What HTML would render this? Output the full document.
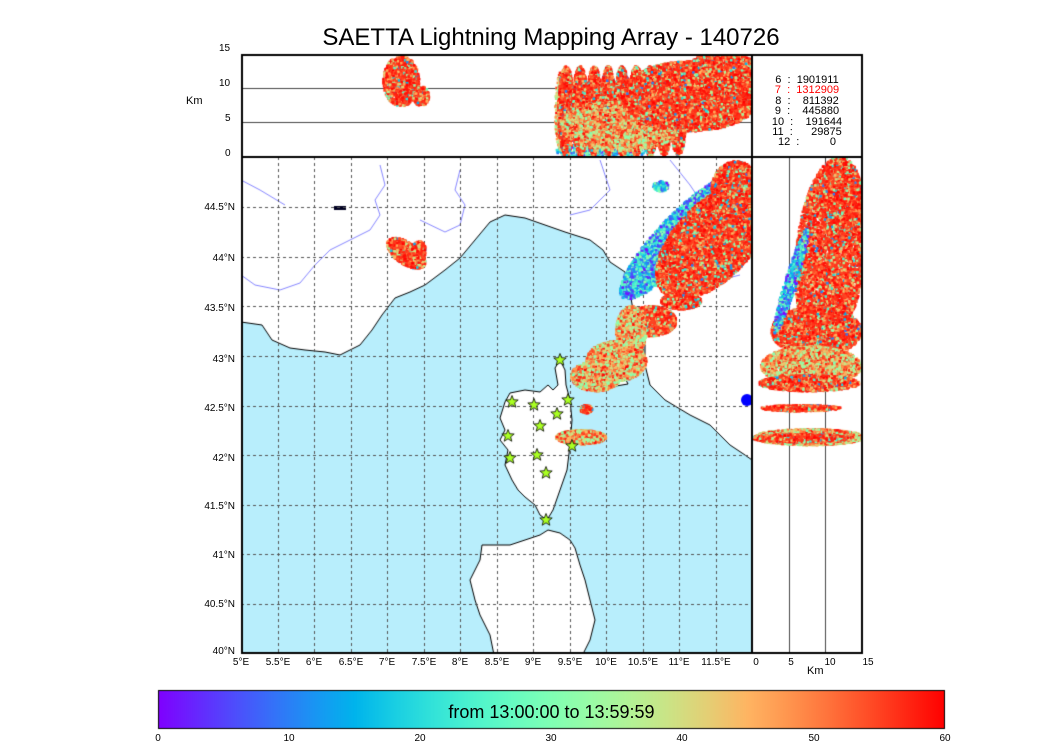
<!DOCTYPE html>
<html><head><meta charset="utf-8"><style>
body{margin:0;background:#fff;width:1050px;height:750px;overflow:hidden;position:relative;font-family:"Liberation Sans",sans-serif}
canvas{position:absolute;left:0;top:0}
.t{position:absolute;font-size:10px;color:#000;white-space:nowrap}
.lat{position:absolute;right:815px;font-size:10px;white-space:nowrap}
.lon{position:absolute;top:657px;font-size:10px;transform:translateX(-50%);white-space:nowrap}
.lg{position:absolute;left:752px;width:110px;text-align:center;font-size:11px;line-height:10.4px;top:75px}
</style></head><body>
<canvas id="c" width="1050" height="750"></canvas>
<div class="t" style="left:0;width:1102px;text-align:center;top:24px;font-size:24px">SAETTA Lightning Mapping Array - 140726</div>
<div class="t" style="left:219px;top:43px">15</div>
<div class="t" style="left:219px;top:78px">10</div>
<div class="t" style="left:225px;top:113px">5</div>
<div class="t" style="left:225px;top:148px">0</div>
<div class="t" style="left:186px;top:95px;font-size:11px">Km</div>
<div class="lg">6&nbsp; : &nbsp;1901911<br><span style="color:#f00">7&nbsp; : &nbsp;1312909</span><br>8&nbsp; : &nbsp;&nbsp;&nbsp;811392<br>9&nbsp; : &nbsp;&nbsp;&nbsp;445880<br>10&nbsp; : &nbsp;&nbsp;&nbsp;191644<br>11&nbsp; : &nbsp;&nbsp;&nbsp;&nbsp;&nbsp;29875<br>12&nbsp; : &nbsp;&nbsp;&nbsp;&nbsp;&nbsp;&nbsp;&nbsp;&nbsp;&nbsp;0</div>
<div class="lat" style="top:202px">44.5°N</div>
<div class="lat" style="top:253px">44°N</div>
<div class="lat" style="top:303px">43.5°N</div>
<div class="lat" style="top:354px">43°N</div>
<div class="lat" style="top:403px">42.5°N</div>
<div class="lat" style="top:453px">42°N</div>
<div class="lat" style="top:501px">41.5°N</div>
<div class="lat" style="top:550px">41°N</div>
<div class="lat" style="top:599px">40.5°N</div>
<div class="lat" style="top:646px">40°N</div>
<div class="lon" style="left:241px">5°E</div><div class="lon" style="left:278px">5.5°E</div>
<div class="lon" style="left:314px">6°E</div><div class="lon" style="left:351px">6.5°E</div>
<div class="lon" style="left:387px">7°E</div><div class="lon" style="left:424px">7.5°E</div>
<div class="lon" style="left:460px">8°E</div><div class="lon" style="left:497px">8.5°E</div>
<div class="lon" style="left:533px">9°E</div><div class="lon" style="left:570px">9.5°E</div>
<div class="lon" style="left:606px">10°E</div><div class="lon" style="left:643px">10.5°E</div>
<div class="lon" style="left:679px">11°E</div><div class="lon" style="left:716px">11.5°E</div>
<div class="lon" style="left:756px">0</div><div class="lon" style="left:791px">5</div>
<div class="lon" style="left:830px">10</div><div class="lon" style="left:868px">15</div>
<div class="t" style="left:807px;top:665px;font-size:11px">Km</div>
<div class="t" style="left:158px;width:787px;text-align:center;top:702px;font-size:18px">from 13:00:00 to 13:59:59</div>
<div class="lon" style="left:158px;top:733px">0</div><div class="lon" style="left:289px;top:733px">10</div>
<div class="lon" style="left:420px;top:733px">20</div><div class="lon" style="left:551px;top:733px">30</div>
<div class="lon" style="left:682px;top:733px">40</div><div class="lon" style="left:814px;top:733px">50</div>
<div class="lon" style="left:945px;top:733px">60</div>
<script>
var c=document.getElementById('c').getContext('2d');
var s=12345;function R(){s=(s*16807)%2147483647;return s/2147483647;}
function col(x){var r=Math.min(1,Math.abs(2*x-0.5)),g=Math.sin(Math.PI*x),b=Math.max(0,Math.cos(Math.PI*x/2));return 'rgb('+Math.round(r*255)+','+Math.round(g*255)+','+Math.round(b*255)+')';}
var gr=c.createLinearGradient(158,0,945,0);for(var i=0;i<=20;i++)gr.addColorStop(i/20,col(i/20));
c.fillStyle=gr;c.fillRect(158,690,787,39);c.strokeStyle='#000';c.lineWidth=1;c.strokeRect(158.5,690.5,786,38);
function poly(p,f,st){c.beginPath();c.moveTo(p[0],p[1]);for(var i=2;i<p.length;i+=2)c.lineTo(p[i],p[i+1]);c.closePath();if(f){c.fillStyle=f;c.fill();}if(st){c.strokeStyle=st;c.lineWidth=1;c.stroke();}}
c.save();c.beginPath();c.rect(241,157,511,496);c.clip();
var co=[262,325,272,340,290,348,305,350,325,352,340,355,350,350,360,345,372,330,382,315,395,298,410,292,425,285,445,270,460,258,475,240,490,222,505,215,525,218,545,225,565,232,590,240,603,250,610,262,625,272,630,292,633,310,640,325,645,345,645,365,650,385,665,400,690,415,710,425,730,445,745,455,752,460];
poly([241,322].concat(co,[752,700,241,700]),'#b8eefc');
c.beginPath();c.moveTo(241,322);for(var i=0;i<co.length;i+=2)c.lineTo(co[i],co[i+1]);c.strokeStyle='#000';c.stroke();
poly([560,360,555,368,558,385,553,390,548,385,540,392,525,390,510,393,505,402,500,418,505,430,500,440,508,450,505,465,512,480,518,490,525,497,535,505,540,515,547,520,553,510,560,490,567,470,570,445,572,420,570,400,566,385,565,370],'#fff','#000');
poly([540,535,548,530,560,533,570,540,575,548,580,565,585,580,590,600,595,620,590,640,580,660,495,660,490,635,480,615,475,600,470,580,480,560,482,545,495,545,510,545,525,540],'#fff','#000');
poly([614,378,624,376,628,384,616,386],'#fff','#000');
c.strokeStyle='#33f';c.lineWidth=0.6;
[[241,275,255,285,280,290,300,283,315,265,330,250,350,240,370,230,380,215,375,200,385,185,380,165],[241,180,260,190,285,205],[420,220,445,232,460,225,465,205,455,190,460,170],[600,160,610,190,590,210,570,215],[640,290,660,285,680,280,700,282,720,280,740,275],[670,160,690,185,700,200,715,210]].forEach(function(p){c.beginPath();c.moveTo(p[0],p[1]);for(var i=2;i<p.length;i+=2)c.lineTo(p[i],p[i+1]);c.stroke();});
c.fillStyle='#002';c.fillRect(334,206,12,4);c.fillStyle='#00f';c.beginPath();c.arc(747,400,6,0,7);c.fill();
c.restore();
c.strokeStyle='#555';c.lineWidth=1;c.setLineDash([3,3]);
for(var k=1;k<14;k++){var x=Math.round(241+36.5*k)+.5;c.beginPath();c.moveTo(x,157);c.lineTo(x,653);c.stroke();}
for(var k=1;k<10;k++){var y=Math.round(157.5+49.6*k)+.5;c.beginPath();c.moveTo(241,y);c.lineTo(752,y);c.stroke();}
c.setLineDash([]);c.strokeStyle='#444';
[88,122].forEach(function(y){c.beginPath();c.moveTo(241,y+.5);c.lineTo(752,y+.5);c.stroke();});
[789,825].forEach(function(x){c.beginPath();c.moveTo(x+.5,157);c.lineTo(x+.5,653);c.stroke();});
function cv(mode){var u=R();if(mode==0){if(u<0.65)return 0.9+R()*0.1;if(u<0.85)return 0.7+R()*0.2;if(u<0.94)return 0.45+R()*0.25;return 0.15+R()*0.3;}if(mode==1){return R()*0.55;}return 0.5+R()*0.5;}
function blob(cx,cy,rx,ry,n,mode,ang){n*=3;ang=ang||0;var ca=Math.cos(ang),sa=Math.sin(ang);for(var i=0;i<n;i++){var a=R()*6.283,r=Math.sqrt(R());var dx=Math.cos(a)*r*rx,dy=Math.sin(a)*r*ry;var x=cx+dx*ca-dy*sa,y=cy+dx*sa+dy*ca;c.fillStyle=col(cv(mode));c.fillRect(x,y,2.5,2.5);}}
c.save();c.beginPath();c.rect(241,157,511,496);c.clip();
blob(680,235,85,22,1500,1,-0.8);blob(712,240,72,38,3500,0,-0.8);blob(735,190,25,30,900,0,0);
blob(680,300,20,8,400,0);blob(650,320,25,15,700,0);blob(630,330,15,25,500,0.5);
blob(615,360,30,20,800,2);blob(595,375,25,15,500,2);blob(585,408,6,4,60,0);
blob(580,436,25,7,500,2);blob(660,185,8,5,40,1);blob(405,252,22,11,350,0,0.6);blob(418,250,7,10,80,0);
c.restore();
c.save();c.beginPath();c.rect(241,54,511,103);c.clip();
blob(400,80,18,25,400,0);blob(420,95,8,10,80,0);
blob(600,150,45,8,150,1);blob(560,110,6,40,120,2);
for(var j=0;j<9;j++)blob(565+j*14,110,8,45,500,0);blob(620,125,60,25,700,2);
blob(690,95,70,35,2500,0);blob(720,75,40,25,900,0);
c.restore();
c.save();c.beginPath();c.rect(752,157,110,496);c.clip();
blob(830,250,35,95,2200,0,0.1);blob(815,330,45,25,1200,0);blob(840,200,22,40,600,0);
blob(790,280,6,55,200,1,0.3);blob(810,365,50,20,900,2);blob(808,382,50,8,700,0);
blob(800,407,40,3,200,0);blob(808,436,55,8,900,2);blob(800,437,50,4,500,0);
c.restore();
function star(x,y){c.beginPath();for(var i=0;i<10;i++){var r=i%2?2.8:6.5,a=-Math.PI/2+i*Math.PI/5;c.lineTo(x+r*Math.cos(a),y+r*Math.sin(a));}c.closePath();c.fillStyle='#aaff22';c.fill();c.strokeStyle='#000';c.lineWidth=0.8;c.stroke();}
[[560,360],[512,402],[534,405],[568,400],[557,414],[540,426],[508,436],[572,446],[510,458],[537,455],[546,473],[546,520]].forEach(function(p){star(p[0],p[1]);});
c.strokeStyle='#000';c.lineWidth=1;c.strokeRect(241.5,157.5,510,495);c.strokeRect(752.5,157.5,109,495);
c.lineWidth=2;c.strokeRect(242,55,620,598);
c.beginPath();c.moveTo(241,157);c.lineTo(862,157);c.moveTo(752,54);c.lineTo(752,653);c.stroke();
</script>
</body></html>
